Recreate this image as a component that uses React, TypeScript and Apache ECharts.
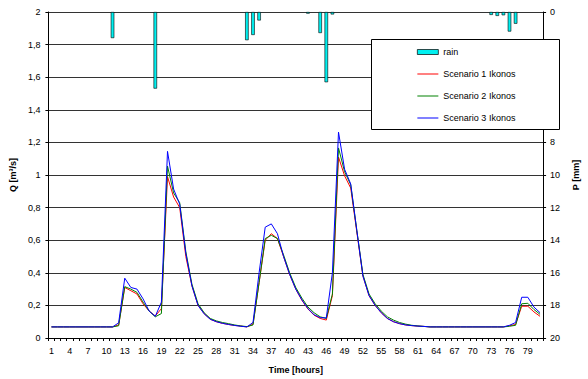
import React, { useEffect, useRef } from "react";
import * as echarts from "echarts";

const hours: string[] = Array.from({ length: 81 }, (_, i) => String(i + 1));

const rainHours = [11, 18, 33, 34, 35, 43, 45, 46, 47, 73, 74, 75, 76, 77];
const rainMm = [1.6, 4.7, 1.73, 1.41, 0.52, 0.1, 1.29, 4.31, 0.15, 0.18, 0.24, 0.2, 1.2, 0.72];

const scenario1 = [
  0.068, 0.068, 0.068, 0.068, 0.068, 0.068, 0.068, 0.068, 0.068, 0.068, 0.068,
  0.08, 0.31, 0.29, 0.27, 0.21, 0.165, 0.135, 0.18, 0.99, 0.865,
  0.8, 0.5, 0.32, 0.2, 0.15, 0.115, 0.1, 0.09, 0.083, 0.077,
  0.073, 0.068, 0.085, 0.34, 0.6, 0.64, 0.61, 0.5, 0.39, 0.3,
  0.232, 0.178, 0.14, 0.12, 0.11, 0.26, 1.11, 0.995, 0.92, 0.65,
  0.38, 0.26, 0.2, 0.155, 0.12, 0.1, 0.088, 0.08, 0.076, 0.073,
  0.071, 0.068, 0.068, 0.068, 0.068, 0.068, 0.068, 0.068, 0.068, 0.068,
  0.068, 0.068, 0.068, 0.068, 0.075, 0.083, 0.195, 0.195, 0.16, 0.133,
];

const scenario2 = [
  0.068, 0.068, 0.068, 0.068, 0.068, 0.068, 0.068, 0.068, 0.068, 0.068, 0.068,
  0.075, 0.315, 0.3, 0.28, 0.22, 0.165, 0.13, 0.15, 1.055, 0.89,
  0.83, 0.53, 0.33, 0.21, 0.155, 0.12, 0.105, 0.095, 0.088, 0.08,
  0.074, 0.07, 0.08, 0.34, 0.61, 0.63, 0.61, 0.51, 0.4, 0.31,
  0.245, 0.19, 0.155, 0.13, 0.12, 0.27, 1.166, 1.02, 0.94, 0.66,
  0.39, 0.27, 0.21, 0.165, 0.13, 0.11, 0.095, 0.085, 0.078, 0.074,
  0.071, 0.068, 0.068, 0.068, 0.068, 0.068, 0.068, 0.068, 0.068, 0.068,
  0.068, 0.068, 0.068, 0.068, 0.072, 0.078, 0.21, 0.213, 0.175, 0.145,
];

const scenario3 = [
  0.068, 0.068, 0.068, 0.068, 0.068, 0.068, 0.068, 0.068, 0.068, 0.068, 0.068,
  0.093, 0.367, 0.31, 0.3, 0.24, 0.165, 0.133, 0.22, 1.145, 0.914,
  0.82, 0.52, 0.32, 0.2, 0.148, 0.115, 0.1, 0.09, 0.083, 0.077,
  0.072, 0.068, 0.095, 0.4, 0.68, 0.7, 0.64, 0.5, 0.39, 0.3,
  0.234, 0.18, 0.143, 0.125, 0.123, 0.4, 1.263, 1.035, 0.945, 0.66,
  0.38, 0.26, 0.2, 0.155, 0.12, 0.1, 0.088, 0.08, 0.076, 0.073,
  0.071, 0.068, 0.068, 0.068, 0.068, 0.068, 0.068, 0.068, 0.068, 0.068,
  0.068, 0.068, 0.068, 0.068, 0.078, 0.095, 0.25, 0.25, 0.19, 0.155,
];

const FONT = '"Liberation Sans", Arial, sans-serif';
const LINE_ICON = "path://M0,0H21V1H0Z";

export default function App() {
  const ref = useRef<HTMLDivElement>(null);
  useEffect(() => {
    if (!ref.current) return;
    const chart = echarts.init(ref.current, null, { renderer: "svg" });
    const rainData = hours.map((h) => {
      const k = rainHours.indexOf(Number(h));
      return k >= 0 ? rainMm[k] : null;
    });
    const lineSeries = (name: string, data: number[], color: string) => ({
      name,
      type: "line",
      data,
      yAxisIndex: 0,
      symbol: "none",
      showSymbol: false,
      lineStyle: { color, width: 1 },
      itemStyle: { color },
      z: 2,
    });
    chart.setOption({
      animation: false,
      textStyle: { fontFamily: FONT },
      grid: { left: 43, right: 28, top: 12, bottom: 36 },
      legend: {
        orient: "vertical",
        left: 417,
        top: 46,
        padding: 0,
        z: 20,
        itemWidth: 21,
        itemHeight: 5,
        itemGap: 10,
        textStyle: { fontSize: 9, color: "#000", fontFamily: FONT, lineHeight: 12 },
        data: [
          { name: "rain", icon: "rect", itemStyle: { color: "#00F0F0", borderColor: "#000", borderWidth: 0.7 } },
          { name: "Scenario 1 Ikonos", icon: LINE_ICON, itemStyle: { color: "#FF0000", borderWidth: 0 } },
          { name: "Scenario 2 Ikonos", icon: LINE_ICON, itemStyle: { color: "#008000", borderWidth: 0 } },
          { name: "Scenario 3 Ikonos", icon: LINE_ICON, itemStyle: { color: "#0000FF", borderWidth: 0 } },
        ],
      },
      graphic: [
        {
          type: "rect",
          shape: { x: 371.5, y: 39.5, width: 188, height: 90 },
          style: { fill: "#fff", stroke: "#000", lineWidth: 1 },
          z: 5,
        },
      ],
      xAxis: {
        type: "category",
        data: hours,
        boundaryGap: true,
        name: "Time [hours]",
        nameLocation: "middle",
        nameGap: 27,
        nameTextStyle: { fontSize: 9, fontWeight: "bold", color: "#000", fontFamily: FONT },
        axisLine: { lineStyle: { color: "#000", width: 1 } },
        axisTick: { show: true, interval: 0, length: 3, lineStyle: { color: "#000" } },
        axisLabel: { interval: 2, fontSize: 9, color: "#000", margin: 8, fontFamily: FONT },
        splitLine: { show: false },
      },
      yAxis: [
        {
          type: "value",
          min: 0,
          max: 2,
          interval: 0.2,
          name: "Q [m³/s]",
          nameLocation: "middle",
          nameGap: 31,
          nameRotate: 90,
          nameTextStyle: { fontSize: 9, fontWeight: "bold", color: "#000", fontFamily: FONT },
          axisLine: { show: true, lineStyle: { color: "#000", width: 1 } },
          axisTick: { show: true, length: 3, lineStyle: { color: "#000" } },
          axisLabel: {
            fontSize: 9,
            color: "#000",
            margin: 8,
            fontFamily: FONT,
            formatter: (v: number) => String(Number(v.toFixed(1))).replace(".", ","),
          },
          splitLine: { show: true, lineStyle: { color: "#333", width: 1 } },
        },
        {
          type: "value",
          min: 0,
          max: 20,
          interval: 2,
          inverse: true,
          position: "right",
          name: "P [mm]",
          nameLocation: "middle",
          nameGap: 27,
          nameRotate: 90,
          nameTextStyle: { fontSize: 9, fontWeight: "bold", color: "#000", fontFamily: FONT },
          axisLine: { show: true, lineStyle: { color: "#000", width: 1 } },
          axisTick: { show: true, length: 3, lineStyle: { color: "#000" } },
          axisLabel: { fontSize: 9, color: "#000", margin: 7, fontFamily: FONT },
          splitLine: { show: false },
        },
      ],
      series: [
        {
          name: "rain",
          type: "bar",
          yAxisIndex: 1,
          data: rainData,
          barWidth: 3.5,
          itemStyle: { color: "#00F0F0", borderColor: "#000", borderWidth: 0.6 },
          z: 2,
        },
        lineSeries("Scenario 1 Ikonos", scenario1, "#FF0000"),
        lineSeries("Scenario 2 Ikonos", scenario2, "#008000"),
        lineSeries("Scenario 3 Ikonos", scenario3, "#0000FF"),
      ],
    });
    return () => chart.dispose();
  }, []);
  return (
    <div
      ref={ref}
      style={{ position: "fixed", left: 0, top: 0, width: 588, height: 379, background: "#fff" }}
    />
  );
}
